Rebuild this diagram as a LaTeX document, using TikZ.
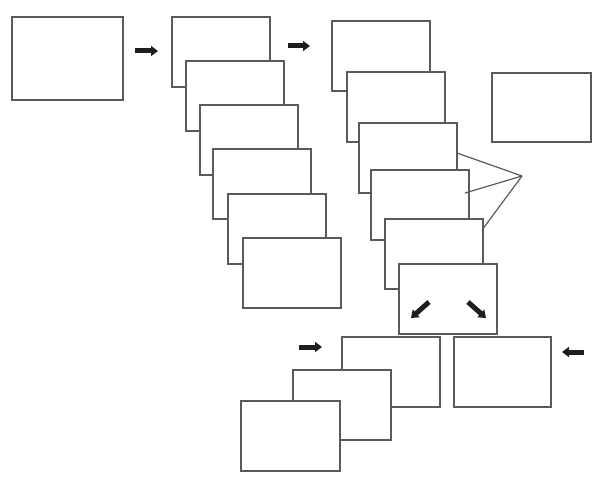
\documentclass[tikz,border=0pt]{standalone}
\usepackage{tikz}
\usetikzlibrary{positioning,arrows.meta}
\definecolor{pline}{HTML}{5A5A5A}
\definecolor{parrow}{HTML}{1E1E1E}

\begin{document}
\begin{tikzpicture}[x=1pt, y=-1pt,
  node_/.style={rectangle, draw=pline, fill=white, line width=1.3pt, anchor=north west,
    inner sep=0pt, outer sep=0pt, minimum width=98pt, minimum height=70pt},
  arr/.style={-{Triangle[length=7pt,width=10pt]}, line width=5pt, color=parrow},
  lnk/.style={line width=1.2pt, color=pline}
]
\useasboundingbox (0,0) rectangle (601,484);

% first box
\node[node_, minimum width=111pt, minimum height=83pt] (src) at (12,17) {};

% first stack
\node[node_] (s1a) at (172,17) {};
\node[node_] (s1b) at (186,61) {};
\node[node_] (s1c) at (200,105) {};
\node[node_] (s1d) at (213,149) {};
\node[node_] (s1e) at (228,194) {};
\node[node_] (s1f) at (243,238) {};

% second stack
\node[node_] (s2a) at (332,21) {};
\node[node_] (s2b) at (347,72) {};
\node[node_] (s2c) at (359,123) {};
\node[node_] (s2d) at (371,170) {};
\node[node_] (s2e) at (385,219) {};
\node[node_] (s2f) at (399,264) {};

% side boxes
\node[node_, minimum width=99pt, minimum height=69pt] (side) at (492,73) {};
\node[node_, minimum width=97pt] (rbox) at (454,337) {};

% bottom stack
\node[node_] (s3a) at (342,337) {};
\node[node_] (s3b) at (293,370) {};
\node[node_, minimum width=99pt] (s3c) at (241,401) {};

% fan lines
\coordinate (tip) at (522,176);
\coordinate (f1) at (457,153);
\coordinate (f2) at (465,193);
\coordinate (f3) at (482,230);
\draw[lnk] (f1) -- (tip);
\draw[lnk] (f2) -- (tip);
\draw[lnk] (f3) -- (tip);

% block arrows
\coordinate (a1s) at (135,51);  \coordinate (a1e) at (158,51);
\coordinate (a2s) at (288,46);  \coordinate (a2e) at (310,46);
\coordinate (a3s) at (429,302); \coordinate (a3e) at (411,318);
\coordinate (a4s) at (468,302); \coordinate (a4e) at (486,318);
\coordinate (a5s) at (299,347); \coordinate (a5e) at (322,347);
\coordinate (a6s) at (584,352); \coordinate (a6e) at (562,352);
\draw[arr] (a1s) -- (a1e);
\draw[arr] (a2s) -- (a2e);
\draw[arr] (a3s) -- (a3e);
\draw[arr] (a4s) -- (a4e);
\draw[arr] (a5s) -- (a5e);
\draw[arr] (a6s) -- (a6e);
\end{tikzpicture}
\end{document}
